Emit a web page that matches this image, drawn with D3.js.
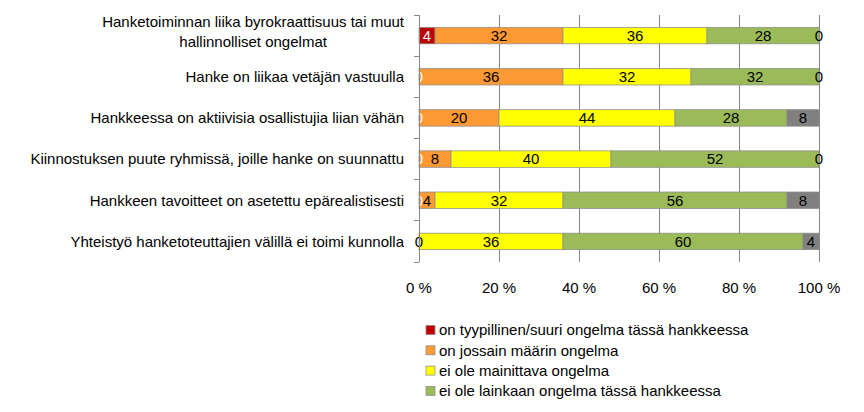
<!DOCTYPE html>
<html>
<head>
<meta charset="utf-8">
<script src="https://cdn.jsdelivr.net/npm/d3@7"></script>
<style>
  body { margin: 0; background: #fff; }
  text { font-family: "Liberation Sans", Arial, sans-serif; }
</style>
</head>
<body>
<div id="wrapper"></div>
<script>
// 1. Data
const categories = [
  ["Hanketoiminnan liika byrokraattisuus tai muut", "hallinnolliset ongelmat"],
  ["Hanke on liikaa vetäjän vastuulla"],
  ["Hankkeessa on aktiivisia osallistujia liian vähän"],
  ["Kiinnostuksen puute ryhmissä, joille hanke on suunnattu"],
  ["Hankkeen tavoitteet on asetettu epärealistisesti"],
  ["Yhteistyö hanketoteuttajien välillä ei toimi kunnolla"],
]
const seriesNames = [
  "on tyypillinen/suuri ongelma tässä hankkeessa",
  "on jossain määrin ongelma",
  "ei ole mainittava ongelma",
  "ei ole lainkaan ongelma tässä hankkeessa",
  "en osaa sanoa",
]
const typical = [4, 0, 0, 0, 0, 0]
const somewhat = [32, 36, 20, 8, 4, 0]
const notNotable = [36, 32, 44, 40, 32, 36]
const notAtAll = [28, 32, 28, 52, 56, 60]
const unknown = [0, 0, 8, 0, 8, 4]
const xTicks = [0, 20, 40, 60, 80, 100]

const seriesValues = [typical, somewhat, notNotable, notAtAll, unknown]
const colors = ["#C00000", "#FF9933", "#FFFF00", "#9BBB59", "#808080"]
const labelColors = ["#fff", "#000", "#000", "#000", "#000"]

// 2. Dimensions
const dimensions = {
  width: 864,
  height: 412,
  margins: { top: 15, right: 45, bottom: 150, left: 419 },
}
dimensions.boundedWidth = dimensions.width - dimensions.margins.left - dimensions.margins.right
dimensions.boundedHeight = dimensions.height - dimensions.margins.top - dimensions.margins.bottom

// 3. Canvas
const wrapper = d3.select("#wrapper")
  .append("svg")
  .attr("width", dimensions.width)
  .attr("height", dimensions.height)

const bounds = wrapper.append("g")
  .attr("transform", `translate(${dimensions.margins.left},${dimensions.margins.top})`)

// 4. Scales
const rows = categories.map((c, i) => {
  let acc = 0
  return seriesValues.map((vals, s) => {
    const seg = { row: i, s, x0: acc, x1: acc + vals[i], v: vals[i] }
    acc += vals[i]
    return seg
  })
})

const xScale = d3.scaleLinear().domain([0, 100]).range([0, dimensions.boundedWidth])
const yScale = d3.scaleBand()
  .domain(d3.range(categories.length))
  .range([0, dimensions.boundedHeight])
  .paddingInner(0.6)
  .paddingOuter(0.3)
const bandStep = dimensions.boundedHeight / categories.length

// 5. Gridlines
bounds.append("g")
  .selectAll("line")
  .data(xTicks)
  .join("line")
  .attr("x1", d => xScale(d))
  .attr("x2", d => xScale(d))
  .attr("y1", 0)
  .attr("y2", dimensions.boundedHeight)
  .attr("stroke", "#868686")
  .attr("stroke-width", 1)
  .attr("shape-rendering", "crispEdges")

// 6. Bars
const segGroup = bounds.append("g")
segGroup.selectAll("rect")
  .data(rows.flat().filter(d => d.v > 0))
  .join("rect")
  .attr("x", d => xScale(d.x0))
  .attr("y", d => yScale(d.row))
  .attr("width", d => xScale(d.x1) - xScale(d.x0))
  .attr("height", yScale.bandwidth())
  .attr("fill", d => colors[d.s])
  .attr("stroke", "#8c8c8c")
  .attr("stroke-width", 0.75)

// data labels
bounds.append("g")
  .selectAll("text")
  .data(rows.flat())
  .join("text")
  .attr("x", d => xScale((d.x0 + d.x1) / 2))
  .attr("y", d => yScale(d.row) + yScale.bandwidth() / 2)
  .attr("dy", "0.36em")
  .attr("text-anchor", "middle")
  .style("font-size", "15px")
  .style("fill", d => labelColors[d.s])
  .text(d => d.v)

// 7. Axes
const yAxis = bounds.append("g")
yAxis.append("line")
  .attr("x1", 0).attr("x2", 0)
  .attr("y1", 0).attr("y2", dimensions.boundedHeight)
  .attr("stroke", "#868686")
  .attr("shape-rendering", "crispEdges")
yAxis.selectAll(".tick")
  .data(d3.range(categories.length + 1))
  .join("line")
  .attr("x1", -5).attr("x2", 0)
  .attr("y1", d => d * bandStep)
  .attr("y2", d => d * bandStep)
  .attr("stroke", "#868686")
  .attr("shape-rendering", "crispEdges")

const catLabels = yAxis.selectAll(".cat")
  .data(categories)
  .join("text")
  .attr("class", "cat")
  .style("font-size", "15px")
  .style("fill", "#000")
  .attr("text-anchor", "middle")

catLabels.each(function (lines, i) {
  const t = d3.select(this)
  const lineH = 20
  const cy = (i + 0.5) * bandStep - (lines.length > 1 ? 4 : 0)
  lines.forEach((l, j) => {
    t.append("tspan")
      .attr("y", cy + (j - (lines.length - 1) / 2) * lineH)
      .attr("dy", "0.36em")
      .text(l)
  })
  const w = d3.max(t.selectAll("tspan").nodes(), n => n.getComputedTextLength())
  t.selectAll("tspan").attr("x", -15 - w / 2)
})

const xAxis = bounds.append("g")
  .attr("transform", `translate(0,${dimensions.boundedHeight})`)
xAxis.selectAll("text")
  .data(xTicks)
  .join("text")
  .attr("x", d => xScale(d))
  .attr("y", 26)
  .attr("dy", "0.36em")
  .attr("text-anchor", "middle")
  .style("font-size", "15px")
  .style("fill", "#000")
  .text(d => `${d} %`)

// 8. Legend
const legend = wrapper.append("g")
  .attr("transform", "translate(426,330)")
const items = legend.selectAll("g")
  .data(seriesNames.slice(0, 4))
  .join("g")
  .attr("transform", (d, i) => `translate(0,${i * 20.3})`)
items.append("rect")
  .attr("x", 0).attr("y", -4.5)
  .attr("width", 9).attr("height", 9)
  .attr("fill", (d, i) => colors[i])
  .attr("stroke", "#8c8c8c")
  .attr("stroke-width", 0.75)
items.append("text")
  .attr("x", 13)
  .attr("dy", "0.36em")
  .style("font-size", "15px")
  .style("fill", "#000")
  .text(d => d)
</script>
</body>
</html>
